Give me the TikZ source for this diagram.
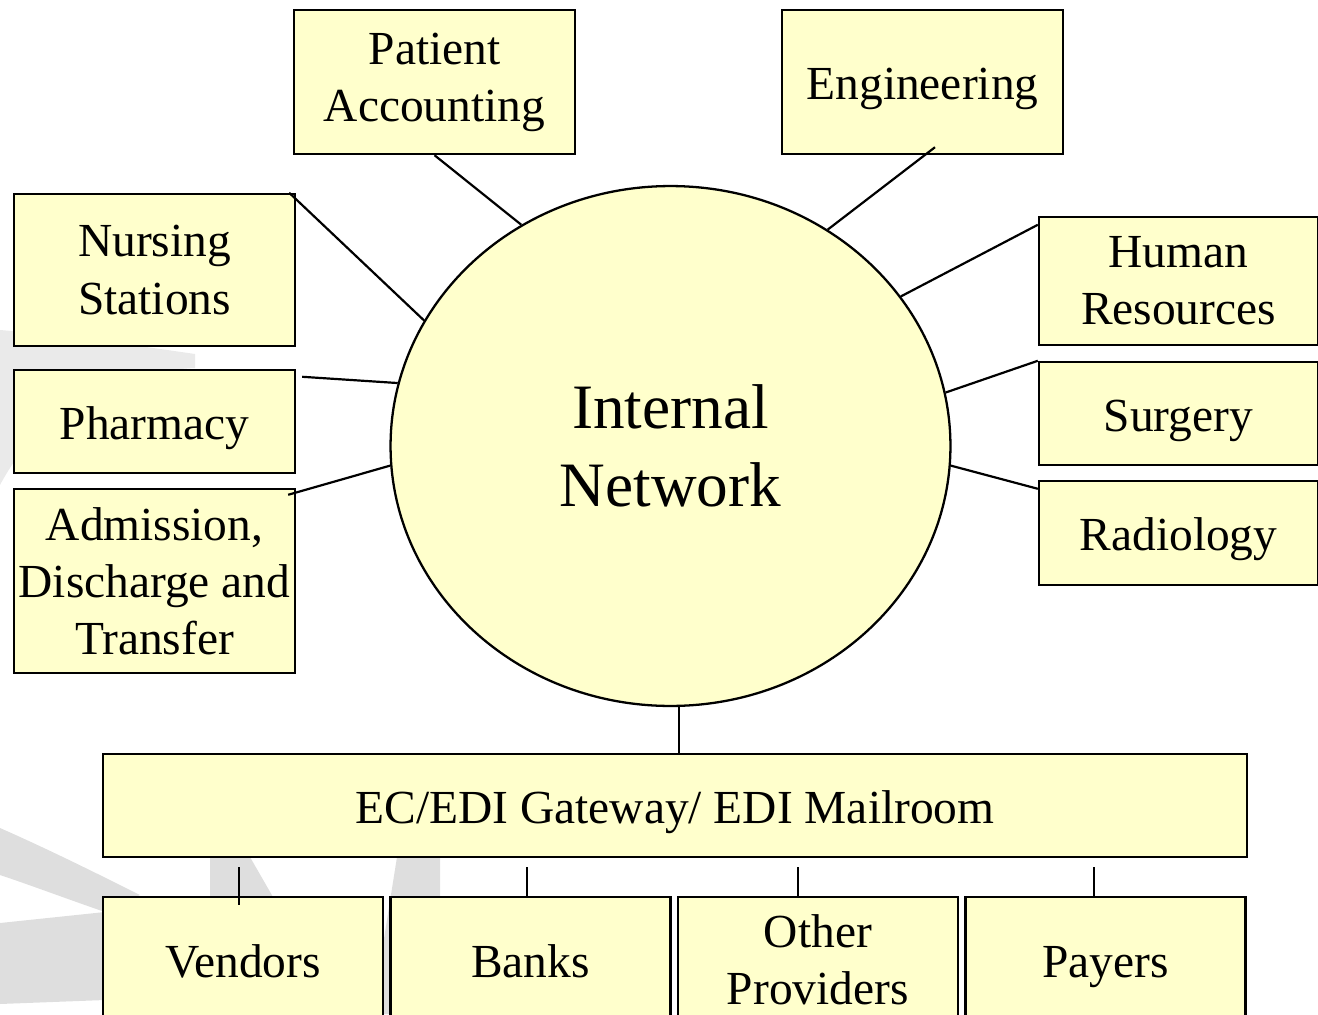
\documentclass[tikz,border=0pt]{standalone}
\usepackage{fontspec}
\setmainfont{Liberation Serif}
\usetikzlibrary{shapes.geometric}
\definecolor{paleyellow}{RGB}{255,255,204}
\definecolor{wmgray}{RGB}{222,222,222}
\definecolor{wmlight}{RGB}{234,234,234}
\tikzstyle{dept} = [rectangle, draw=black, line width=1.4pt, fill=paleyellow, inner sep=0pt, align=center, font=\fontsize{27}{32.5}\selectfont]
\tikzstyle{single} = [text height=25pt, text depth=5pt]
\tikzstyle{hub} = [ellipse, draw=black, line width=1.3pt, fill=paleyellow, inner sep=0pt, align=center, font=\fontsize{36}{44}\selectfont, minimum width=11.2cm, minimum height=10.4cm]
\tikzstyle{link} = [line width=1.25pt]
\tikzstyle{wmark} = [fill=wmgray, draw=none]

\begin{document}
\begin{tikzpicture}[x=0.02cm, y=-0.02cm, node distance=5.75cm]
\useasboundingbox (0,0) rectangle (1318,1014);

% faint logo behind the chart
\fill [wmark, fill=wmlight] (0,330) .. controls (70,336) and (140,346) .. (195,354) -- (195,368) .. controls (110,372) and (40,410) .. (0,485) -- cycle;
\fill [wmark] (0,828) .. controls (50,850) and (100,875) .. (140,895) -- (105,912) .. controls (70,900) and (30,885) .. (0,875) -- cycle;
\fill [wmark] (0,923) -- (105,912) -- (105,1000) -- (0,1004) -- cycle;
\fill [wmark] (210,857) -- (250,857) -- (273,897) -- (210,897) -- cycle;
\fill [wmark] (397,857) -- (440,857) -- (440,1014) -- (372,1014) -- cycle;

\node (net) [hub] at (670.5,446) {Internal\\Network};
\node (pacc) [dept, minimum width=5.62cm, minimum height=2.88cm] at (434.5,82) {Patient\\Accounting};
\node (eng) [dept, single, minimum width=5.62cm, minimum height=2.88cm] at (922.5,82) {Engineering};
\node (nurse) [dept, minimum width=5.62cm, minimum height=3.04cm] at (154.5,270) {Nursing\\Stations};
\node (pharm) [dept, single, minimum width=5.62cm, minimum height=2.06cm] at (154.5,421.5) {Pharmacy};
\node (adt) [dept, minimum width=5.62cm, minimum height=3.68cm] at (154.5,581) {Admission,\\Discharge and\\Transfer};
\node (hr) [dept, minimum width=5.58cm, minimum height=2.56cm] at (1178.5,281) {Human\\Resources};
\node (surg) [dept, single, minimum width=5.58cm, minimum height=2.06cm] at (1178.5,413.5) {Surgery};
\node (rad) [dept, single, minimum width=5.58cm, minimum height=2.08cm] at (1178.5,533) {Radiology};
\node (edi) [dept, single, minimum width=22.88cm, minimum height=2.06cm] at (675,805.5) {EC/EDI Gateway/ EDI Mailroom};
\node (vend) [dept, single, minimum width=5.6cm, minimum height=2.52cm] at (243,960) {Vendors};
\node (banks) [dept, single, minimum width=5.6cm, minimum height=2.52cm, right of=vend] {Banks};
\node (other) [dept, minimum width=5.6cm, minimum height=2.52cm, right of=banks] {Other\\Providers};
\node (payers) [dept, single, minimum width=5.6cm, minimum height=2.52cm, right of=other] {Payers};

\draw [link] (pacc.south) -- (net.124);
\draw [link] ([shift={(12.5,-8)}]eng.south) -- (net.54);
\draw [link] ([shift={(-7,0)}]nurse.north east) -- (net.153);
\draw [link] ([shift={(6,8)}]pharm.north east) -- (net.167);
\draw [link] ([shift={(-8,7)}]adt.north east) -- (net.184);
\draw [link] ([shift={(0,9)}]hr.north west) -- (net.33);
\draw [link] (surg.north west) -- (net.11);
\draw [link] ([shift={(0,9)}]rad.north west) -- (net.-4);
\draw [link] ([shift={(8.5,0)}]net.south) -- ([shift={(8.5,0)}]net.south |- edi.north);
\foreach \n/\dx/\dy in {vend/-4/9, banks/-3.5/0, other/-19.5/0, payers/-11.5/0}
  \draw [link] ([shift={(\dx,\dy)}]\n.north) -- ([shift={(\dx,9)}]\n.north |- edi.south);

\end{tikzpicture}
\end{document}
